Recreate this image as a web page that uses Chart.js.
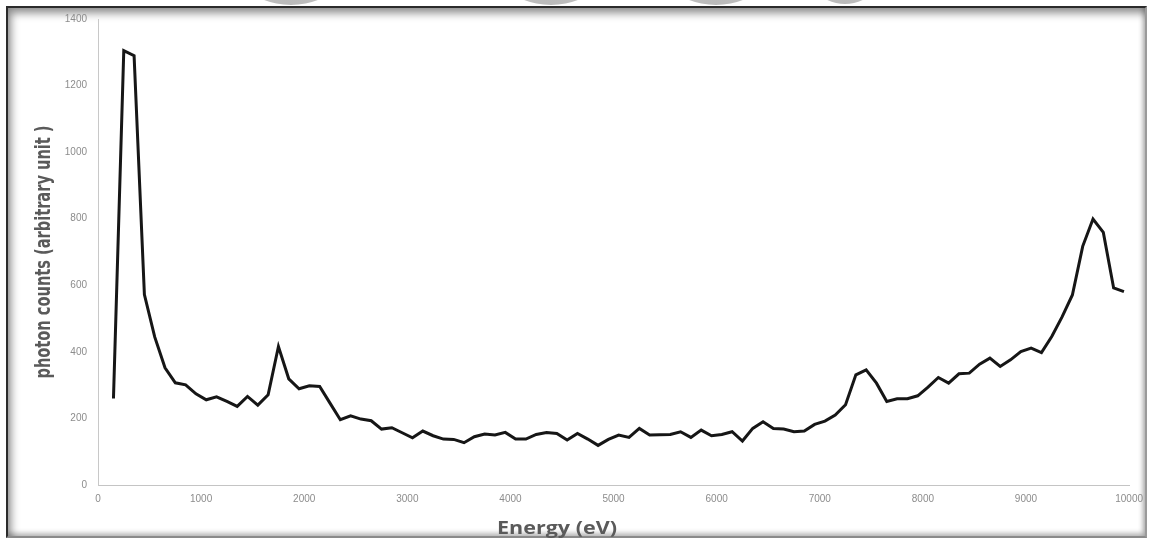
<!DOCTYPE html>
<html>
<head>
<meta charset="utf-8">
<script src="https://cdn.jsdelivr.net/npm/chart.js@4/dist/chart.umd.min.js"></script>
<style>
  html, body { margin: 0; padding: 0; background: #ffffff; }
  #wrap { position: relative; width: 1151px; height: 542px; overflow: hidden; background: #fff; }
  .blob { position: absolute; border-radius: 50%; background: radial-gradient(ellipse at 50% 85%, #b8b8b8 0%, #c6c6c6 60%, #d4d4d4 100%); }
  #frame {
    position: absolute; left: 6px; top: 6px; width: 1141px; height: 532px;
    box-sizing: border-box;
    border-top: 2px solid #2b2b2b; border-left: 2px solid #2b2b2b;
    border-right: 2px solid #9a9a9a; border-bottom: 2px solid #8a8a8a;
    box-shadow: inset 3px 5px 8px rgba(0,0,0,0.45), inset -2px -3px 5px rgba(0,0,0,0.25);
    background: #fff;
  }
  #chart { position: absolute; left: 0; top: 0; }
</style>
</head>
<body>
<div id="wrap">
  <div class="blob" style="left:216px; top:-146px; width:150px; height:151px;"></div>
  <div class="blob" style="left:476px; top:-146px; width:150px; height:151px;"></div>
  <div class="blob" style="left:641px; top:-146px; width:150px; height:151px;"></div>
  <div class="blob" style="left:795px; top:-120px; width:100px; height:124px;"></div>
  <div id="frame"></div>
  <canvas id="chart" width="1151" height="542"></canvas>
</div>
<script>
// Photon energy bins (eV)
const energy = [
  150, 250, 350, 450, 550, 650, 750, 850, 950, 1050,
  1150, 1250, 1350, 1450, 1550, 1650, 1750, 1850, 1950, 2050,
  2150, 2250, 2350, 2450, 2550, 2650, 2750, 2850, 2950, 3050,
  3150, 3250, 3350, 3450, 3550, 3650, 3750, 3850, 3950, 4050,
  4150, 4250, 4350, 4450, 4550, 4650, 4750, 4850, 4950, 5050,
  5150, 5250, 5350, 5450, 5550, 5650, 5750, 5850, 5950, 6050,
  6150, 6250, 6350, 6450, 6550, 6650, 6750, 6850, 6950, 7050,
  7150, 7250, 7350, 7450, 7550, 7650, 7750, 7850, 7950, 8050,
  8150, 8250, 8350, 8450, 8550, 8650, 8750, 8850, 8950, 9050,
  9150, 9250, 9350, 9450, 9550, 9650, 9750, 9850, 9950
];

// Photon counts per bin (arbitrary unit)
const counts = [
  260, 1305, 1290, 572, 445, 352, 307, 301, 274, 256,
  265, 251, 236, 266, 240, 271, 416, 319, 289, 298,
  296, 246, 196, 208, 198, 193, 168, 172, 157, 142,
  162, 148, 138, 137, 127, 145, 153, 150, 158, 138,
  138, 152, 158, 155, 135, 155, 138, 119, 137, 150,
  143, 170, 150, 151, 152, 160, 143, 165, 148, 152,
  160, 132, 170, 190, 170, 168, 160, 162, 182, 192,
  210, 241, 331, 346, 306, 251, 259, 259, 268, 294,
  323, 306, 334, 336, 363, 381, 356, 376, 401, 411,
  398, 446, 505, 571, 717, 799, 759, 592, 581
];

// Axis ranges and titles
const xRange = [0, 10000];
const xStep = 1000;
const yRange = [0, 1400];
const yStep = 200;
const xTitle = 'Energy (eV)';
const yTitle = 'photon counts (arbitrary unit )';

const points = energy.map((e, i) => ({ x: e, y: counts[i] }));

// Axis titles, drawn condensed like the original spreadsheet font
const axisTitles = {
  id: 'axisTitles',
  afterDraw(chart) {
    const ctx = chart.ctx;
    const area = chart.chartArea;
    ctx.save();
    ctx.fillStyle = '#5a5a5a';

    // vertical title
    ctx.font = 'bold 21px "Liberation Sans Narrow", "DejaVu Sans Condensed", "Liberation Sans", sans-serif';
    ctx.textAlign = 'center';
    ctx.textBaseline = 'alphabetic';
    let w = ctx.measureText(yTitle).width;
    ctx.save();
    ctx.translate(50, (area.top + area.bottom) / 2);
    ctx.rotate(-Math.PI / 2);
    ctx.scale(253 / w, 1);
    ctx.fillText(yTitle, 0, 0);
    ctx.restore();

    // horizontal title
    ctx.font = 'bold 17px "Open Sans", "Liberation Sans", sans-serif';
    w = ctx.measureText(xTitle).width;
    ctx.save();
    ctx.translate(557, 534);
    ctx.scale(120 / w, 1);
    ctx.fillText(xTitle, 0, 0);
    ctx.restore();

    ctx.restore();
  }
};

const plainNumber = (v) => String(v);

new Chart(document.getElementById('chart'), {
  type: 'line',
  data: {
    datasets: [{
      data: points,
      borderColor: '#161616',
      borderWidth: 3,
      borderJoinStyle: 'miter',
      pointRadius: 0,
      tension: 0,
      fill: false
    }]
  },
  options: {
    responsive: false,
    animation: false,
    devicePixelRatio: 1,
    layout: { padding: { left: 0, top: 19, right: 21, bottom: 0 } },
    plugins: { legend: { display: false }, tooltip: { enabled: false }, title: { display: false } },
    scales: {
      x: {
        type: 'linear',
        min: xRange[0], max: xRange[1],
        grid: { display: false, drawTicks: false },
        border: { display: true, color: '#c4c4c4', width: 1 },
        ticks: {
          stepSize: xStep,
          color: '#8c8c8c',
          padding: 8,
          maxRotation: 0,
          callback: plainNumber,
          font: { family: '"Liberation Sans", sans-serif', size: 10 }
        },
        afterFit(scale) { scale.height = 57; }
      },
      y: {
        min: yRange[0], max: yRange[1],
        grid: { display: false, drawTicks: false },
        border: { display: true, color: '#c8c8c8', width: 1 },
        ticks: {
          stepSize: yStep,
          color: '#8c8c8c',
          padding: 11,
          callback: plainNumber,
          font: { family: '"Liberation Sans", sans-serif', size: 10 }
        },
        afterFit(scale) { scale.width = 98; }
      }
    }
  },
  plugins: [axisTitles]
});
</script>
</body>
</html>
